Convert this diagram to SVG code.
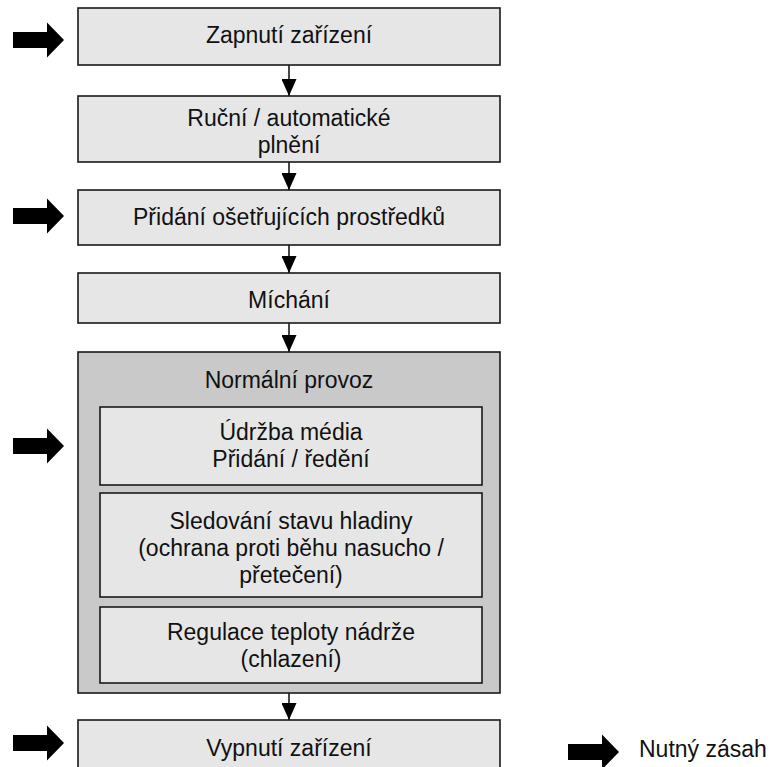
<svg xmlns="http://www.w3.org/2000/svg" width="780" height="767" viewBox="0 0 780 767">
<style>
.box{fill:#e6e6e6;stroke:#1a1a1a;stroke-width:1.6}
.outer{fill:#c9c9c9;stroke:#1a1a1a;stroke-width:1.6}
.t{font-family:"Liberation Sans",Arial,sans-serif;font-size:23px;fill:#111;text-anchor:middle}
.lt{font-family:"Liberation Sans",Arial,sans-serif;font-size:23px;fill:#111}
.conn{stroke:#1a1a1a;stroke-width:1.6;fill:none}
.blk{fill:#000}
</style>
<defs>
<marker id="ah" markerWidth="17" markerHeight="15" refX="17" refY="7.5" orient="auto" markerUnits="userSpaceOnUse" viewBox="0 0 17 15">
<path d="M0,0 L17,7.5 L0,15 Z" fill="#000"/>
</marker>
<path id="bigArrow" d="M0,-8 L34,-8 L34,-17.5 L51,0 L34,17.5 L34,8 L0,8 Z"/>
</defs>
<rect width="780" height="767" fill="#fff"/>

<g id="n1"><rect class="box" x="78" y="8" width="422" height="57"/><text class="t" x="289" y="43">Zapnutí zařízení</text></g>
<g id="n2"><rect class="box" x="78" y="96" width="422" height="66"/><text class="t" x="289" y="126">Ruční / automatické</text><text class="t" x="289" y="153">plnění</text></g>
<g id="n3"><rect class="box" x="78" y="190" width="422" height="55"/><text class="t" x="289" y="225">Přidání ošetřujících prostředků</text></g>
<g id="n4"><rect class="box" x="78" y="273" width="422" height="50"/><text class="t" x="289" y="308">Míchání</text></g>
<g id="n5"><rect class="outer" x="78" y="352" width="422" height="341"/><text class="t" x="289" y="388">Normální provoz</text>
<g id="n5a"><rect class="box" x="100" y="407" width="382" height="78"/><text class="t" x="291" y="440">Údržba média</text><text class="t" x="291" y="467">Přidání / ředění</text></g>
<g id="n5b"><rect class="box" x="100" y="493" width="382" height="104"/><text class="t" x="291" y="529">Sledování stavu hladiny</text><text class="t" x="291" y="556">(ochrana proti běhu nasucho /</text><text class="t" x="291" y="583">přetečení)</text></g>
<g id="n5c"><rect class="box" x="100" y="607" width="382" height="76"/><text class="t" x="291" y="640">Regulace teploty nádrže</text><text class="t" x="291" y="667">(chlazení)</text></g>
</g>
<g id="n6"><rect class="box" x="78" y="720" width="422" height="60"/><text class="t" x="289" y="756">Vypnutí zařízení</text></g>

<g id="connectors">
<line class="conn" x1="289" y1="65" x2="289" y2="96" marker-end="url(#ah)"/>
<line class="conn" x1="289" y1="162" x2="289" y2="190" marker-end="url(#ah)"/>
<line class="conn" x1="289" y1="245" x2="289" y2="273" marker-end="url(#ah)"/>
<line class="conn" x1="289" y1="323" x2="289" y2="352" marker-end="url(#ah)"/>
<line class="conn" x1="289" y1="693" x2="289" y2="720" marker-end="url(#ah)"/>
</g>

<g id="interventions">
<use href="#bigArrow" class="blk" x="13" y="40"/>
<use href="#bigArrow" class="blk" x="13" y="216"/>
<use href="#bigArrow" class="blk" x="13" y="446"/>
<use href="#bigArrow" class="blk" x="13" y="743"/>
</g>

<g id="legend">
<use href="#bigArrow" class="blk" x="568" y="752"/>
<text class="lt" x="639" y="757">Nutný zásah</text>
</g>
</svg>
